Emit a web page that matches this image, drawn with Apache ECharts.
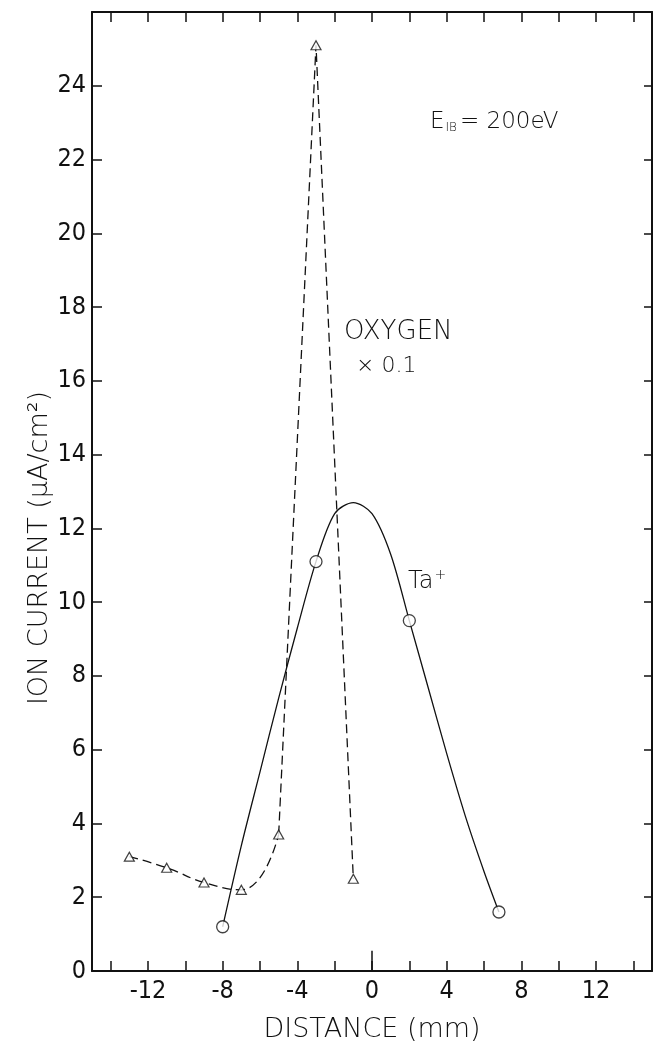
<!DOCTYPE html>
<html>
<head>
<meta charset="utf-8">
<script src="https://cdn.jsdelivr.net/npm/echarts@6/dist/echarts.min.js"></script>
<style>
  html, body { margin: 0; padding: 0; background: #fff; }
  #chart { width: 654px; height: 1048px; }
</style>
</head>
<body>
<div id="chart"></div>
<script>
// Ta+ ion current: measured points and the drawn curve (µA/cm²) vs distance (mm)
const taMeasuredX = [-8, -3, 2, 6.8];
const taMeasuredY = [1.2, 11.1, 9.5, 1.6];
const taCurveX = [-8, -7, -6, -5, -4, -3, -2, -1, 0, 1, 2, 3, 4, 5, 6, 6.8];
const taCurveY = [1.2, 3.4, 5.4, 7.4, 9.3, 11.1, 12.4, 12.7, 12.4, 11.3, 9.5, 7.7, 5.9, 4.2, 2.7, 1.6];

// Oxygen ion current, scaled by 0.1
const oxyX = [-13, -11, -9, -7, -5, -3, -1];
const oxyY = [3.1, 2.8, 2.4, 2.2, 3.7, 25.1, 2.5];

// Axis ticks and labels
const xLabelValues = [-12, -8, -4, 0, 4, 8, 12];
const xTickValues = [-14, -12, -10, -8, -6, -4, -2, 0, 2, 4, 6, 8, 10, 12, 14];
const yLabelValues = [0, 2, 4, 6, 8, 10, 12, 14, 16, 18, 20, 22, 24];
const yTickValues = [2, 4, 6, 8, 10, 12, 14, 16, 18, 20, 22, 24];

const pairs = (xs, ys) => xs.map((x, i) => [x, ys[i]]);
const oxyPts = pairs(oxyX, oxyY);

const INK = '#111';
const digitFont = "'Liberation Sans Narrow', 'DejaVu Sans Condensed', 'Roboto', sans-serif";
const textFont = "'DejaVu Sans', sans-serif";

const frameAxis = (extra) => Object.assign({
  type: 'value',
  axisLine: { show: true, onZero: false, lineStyle: { color: INK, width: 2 } },
  splitLine: { show: false }
}, extra);

const chart = echarts.init(document.getElementById('chart'), null, { renderer: 'canvas' });

chart.setOption({
  backgroundColor: '#fff',
  animation: false,
  grid: { left: 92, right: 2, top: 12, bottom: 68, containLabel: false },
  xAxis: [
    frameAxis({
      min: -15, max: 15, position: 'bottom',
      axisTick: { show: true, inside: true, length: 10, customValues: xTickValues,
        lineStyle: { color: INK, width: 1.5 } },
      axisLabel: { customValues: xLabelValues, margin: 8, fontSize: 25, color: INK,
        fontFamily: digitFont,
        formatter: v => (v < 0 ? '-' + Math.abs(v) : String(v)) },
      name: 'DISTANCE (mm)', nameLocation: 'middle', nameGap: 45,
      nameTextStyle: { fontSize: 27, color: INK, fontFamily: textFont, fontWeight: 200 }
    }),
    frameAxis({
      min: -15, max: 15, position: 'top',
      axisTick: { show: true, inside: true, length: 10, customValues: xTickValues,
        lineStyle: { color: INK, width: 1.5 } },
      axisLabel: { show: false }
    })
  ],
  yAxis: [
    frameAxis({
      min: 0, max: 26, position: 'left',
      axisTick: { show: true, inside: true, length: 10, customValues: yTickValues,
        lineStyle: { color: INK, width: 1.5 } },
      axisLabel: { customValues: yLabelValues, margin: 6, fontSize: 25, color: INK,
        fontFamily: digitFont }
    }),
    frameAxis({
      min: 0, max: 26, position: 'right',
      axisTick: { show: true, inside: true, length: 8, customValues: yTickValues,
        lineStyle: { color: INK, width: 1.5 } },
      axisLabel: { show: false }
    })
  ],
  series: [
    {
      name: 'Ta+ curve', type: 'line', xAxisIndex: 0, yAxisIndex: 0,
      data: pairs(taCurveX, taCurveY), smooth: 0.3, symbol: 'none',
      lineStyle: { color: INK, width: 1.3 }, z: 3,
      // longer tick marking the origin of the distance scale
      markLine: {
        silent: true, symbol: 'none', label: { show: false },
        lineStyle: { color: INK, width: 1.5, type: 'solid' },
        data: [[{ coord: [0, 0] }, { coord: [0, 0.55] }]]
      }
    },
    {
      name: 'O lower', type: 'line', xAxisIndex: 0, yAxisIndex: 0,
      data: oxyPts.slice(0, 5), smooth: 0.5, symbol: 'none',
      lineStyle: { color: INK, width: 1.3, type: [9, 5] }, z: 3
    },
    {
      name: 'O peak', type: 'line', xAxisIndex: 0, yAxisIndex: 0,
      data: oxyPts.slice(4), smooth: false, symbol: 'none',
      lineStyle: { color: INK, width: 1.3, type: [9, 5] }, z: 3
    },
    {
      name: 'Ta+', type: 'scatter', xAxisIndex: 0, yAxisIndex: 0,
      data: pairs(taMeasuredX, taMeasuredY), symbol: 'circle', symbolSize: 12,
      itemStyle: { color: '#fff', borderColor: INK, borderWidth: 1.3 }, z: 5
    },
    {
      name: 'Oxygen', type: 'scatter', xAxisIndex: 0, yAxisIndex: 0,
      data: oxyPts, symbol: 'triangle', symbolSize: [10, 9],
      itemStyle: { color: '#fff', borderColor: INK, borderWidth: 1.2 }, z: 5
    }
  ],
  graphic: [
    {
      type: 'text', x: 40, y: 548, rotation: Math.PI / 2,
      style: { text: 'ION CURRENT (μA/cm²)', font: "200 27px 'DejaVu Sans', sans-serif",
        fill: INK, align: 'center', verticalAlign: 'middle',
        textAlign: 'center', textVerticalAlign: 'middle' }
    },
    {
      type: 'text', x: 430, y: 122,
      style: {
        text: '{e|E}{s|IB}{e|= 200eV}', fill: INK,
        verticalAlign: 'middle', textVerticalAlign: 'middle',
        rich: {
          e: { fontSize: 23, fontFamily: textFont, fontWeight: 200, fill: INK },
          s: { fontSize: 12, fontFamily: textFont, fontWeight: 200, fill: INK, padding: [12, 3, 0, 1] }
        }
      }
    },
    {
      type: 'text', x: 344, y: 332,
      style: { text: 'OXYGEN', font: "200 26px 'DejaVu Sans', sans-serif", fill: INK,
        verticalAlign: 'middle', textVerticalAlign: 'middle' }
    },
    {
      type: 'text', x: 356, y: 366,
      style: { text: '× 0.1', font: "200 22px 'DejaVu Sans', sans-serif", fill: INK,
        verticalAlign: 'middle', textVerticalAlign: 'middle' }
    },
    {
      type: 'text', x: 408, y: 582,
      style: {
        text: '{t|Ta}{p|+}', fill: INK,
        verticalAlign: 'middle', textVerticalAlign: 'middle',
        rich: {
          t: { fontSize: 24, fontFamily: textFont, fontWeight: 200, fill: INK },
          p: { fontSize: 14, fontFamily: textFont, fontWeight: 200, fill: INK, padding: [0, 0, 14, 1] }
        }
      }
    }
  ]
});
</script>
</body>
</html>
